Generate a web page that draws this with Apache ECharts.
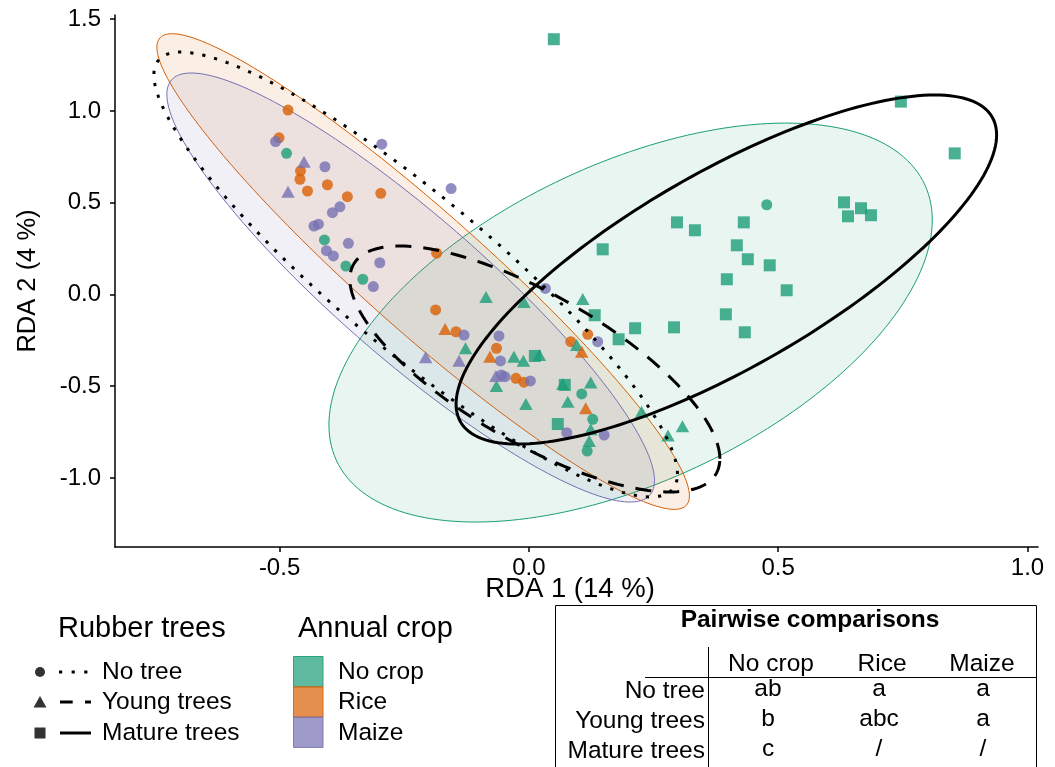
<!DOCTYPE html>
<html><head><meta charset="utf-8">
<script src="https://cdn.jsdelivr.net/npm/echarts@6/dist/echarts.min.js"></script>
<style>html,body{margin:0;padding:0;background:#fff}#c{width:1055px;height:767px}</style>
</head><body><div id="c"></div>
<script>
const FONT = '"Liberation Sans", Arial, Helvetica, sans-serif';

// ---- axes ----
const xTicks = [-0.5, 0.0, 0.5, 1.0];
const yTicks = [-1.0, -0.5, 0.0, 0.5, 1.0, 1.5];
const xTitle = 'RDA 1 (14 %)';
const yTitle = 'RDA 2 (4 %)';

// ---- groups ----
const cropNames = ['No crop', 'Rice', 'Maize'];
const cropColors = ['#1b9e77', '#d95f02', '#7570b3'];
const treeNames = ['No tree', 'Young trees', 'Mature trees'];
const treeSymbols = ['circle', 'triangle', 'rect'];

// ---- sample scores [RDA1, RDA2] ----
const noTreeNoCrop = [[-0.486,0.769],[-0.410,0.297],[-0.367,0.155],[-0.333,0.083],[0.477,0.489],[0.106,-0.542],[0.128,-0.680],[0.117,-0.853]];
const noTreeRice = [[-0.483,1.005],[-0.501,0.854],[-0.458,0.673],[-0.459,0.628],[-0.444,0.564],[-0.404,0.598],[-0.364,0.533],[-0.297,0.551],[-0.185,0.225],[-0.187,-0.084],[-0.146,-0.203],[-0.065,-0.293],[-0.026,-0.457],[-0.010,-0.478],[0.084,-0.257],[0.118,-0.217]];
const noTreeMaize = [[-0.508,0.833],[-0.409,0.696],[-0.295,0.819],[-0.156,0.577],[-0.379,0.478],[-0.394,0.446],[-0.422,0.383],[-0.431,0.373],[-0.362,0.279],[-0.406,0.239],[-0.392,0.210],[-0.299,0.173],[-0.312,0.043],[0.033,0.033],[-0.130,-0.221],[-0.060,-0.226],[-0.057,-0.362],[-0.055,-0.439],[-0.048,-0.448],[0.003,-0.471],[0.138,-0.257],[0.076,-0.753],[0.151,-0.766]];
const youngNoCrop = [[-0.086,-0.014],[-0.010,-0.041],[0.108,-0.025],[-0.127,-0.293],[-0.030,-0.339],[-0.011,-0.361],[0.021,-0.330],[-0.065,-0.499],[-0.006,-0.597],[0.068,-0.488],[0.096,-0.275],[0.124,-0.480],[0.078,-0.584],[0.124,-0.735],[0.121,-0.798],[0.226,-0.639],[0.308,-0.718],[0.279,-0.768]];
const youngRice = [[-0.168,-0.188],[-0.078,-0.339],[0.106,-0.312],[0.114,-0.620]];
const youngMaize = [[-0.451,0.724],[-0.483,0.560],[-0.207,-0.342],[-0.140,-0.361],[-0.066,-0.444]];
const matureNoCrop = [[0.050,1.391],[0.746,1.051],[0.854,0.769],[0.632,0.502],[0.666,0.470],[0.640,0.426],[0.686,0.432],[0.431,0.393],[0.297,0.393],[0.333,0.350],[0.148,0.246],[0.417,0.268],[0.439,0.192],[0.483,0.159],[0.397,0.083],[0.517,0.023],[0.395,-0.108],[0.433,-0.206],[0.132,-0.113],[0.213,-0.184],[0.291,-0.179],[0.180,-0.244],[0.012,-0.335],[0.072,-0.493],[0.058,-0.706]];

// ---- ellipses: centre, half-extent in x and y, correlation ----
const cropEllCx = [0.204, -0.212, -0.237];
const cropEllCy = [-0.153, 0.125, 0.038];
const cropEllRx = [0.605, 0.534, 0.489];
const cropEllRy = [1.087, 1.296, 1.169];
const cropEllR  = [0.514, -0.943, -0.900];

const treeEllCx = [-0.227, 0.012, 0.396];
const treeEllCy = [0.109, -0.406, 0.136];
const treeEllRx = [0.525, 0.371, 0.542];
const treeEllRy = [1.212, 0.670, 0.951];
const treeEllR  = [-0.897, -0.730, 0.771];

// ---- pairwise table ----
const tableCols = ['No crop', 'Rice', 'Maize'];
const tableRows = ['No tree', 'Young trees', 'Mature trees'];
const tableVals = [['ab','a','a'],['b','abc','a'],['c','/','/']];

function hexA(hex, a) {
  const n = parseInt(hex.slice(1), 16);
  return 'rgba(' + (n >> 16) + ',' + ((n >> 8) & 255) + ',' + (n & 255) + ',' + a + ')';
}

function ellipsePoints(api, cx, cy, rx, ry, r) {
  const pts = [];
  const s = Math.sqrt(1 - r * r);
  const N = 200;
  for (let k = 0; k <= N; k++) {
    const t = 2 * Math.PI * k / N;
    const x = cx + rx * Math.cos(t);
    const y = cy + ry * (r * Math.cos(t) + s * Math.sin(t));
    pts.push(api.coord([x, y]));
  }
  return pts;
}

const treeDash = [[3.2, 9], [16, 12], null];

const series = [];
series.push({
  type: 'custom', name: 'cropEllipses', z: 1, silent: true,
  data: cropEllCx.map((c, i) => [c, cropEllCy[i]]),
  renderItem: function (params, api) {
    const i = params.dataIndex;
    return {
      type: 'polygon',
      shape: { points: ellipsePoints(api, cropEllCx[i], cropEllCy[i], cropEllRx[i], cropEllRy[i], cropEllR[i]) },
      style: { fill: hexA(cropColors[i], 0.1), stroke: cropColors[i], lineWidth: 1 }
    };
  }
});

const groups = [
  [noTreeNoCrop, 0, 0], [noTreeRice, 0, 1], [noTreeMaize, 0, 2],
  [youngNoCrop, 1, 0], [youngRice, 1, 1], [youngMaize, 1, 2],
  [matureNoCrop, 2, 0]
];
const symSize = [11, [13.5, 12], 12];
groups.forEach(g => {
  series.push({
    type: 'scatter', z: 2, name: treeNames[g[1]] + ' / ' + cropNames[g[2]],
    symbol: treeSymbols[g[1]], symbolSize: symSize[g[1]],
    itemStyle: { color: cropColors[g[2]], opacity: 0.8 },
    data: g[0]
  });
});

series.push({
  type: 'custom', name: 'treeEllipses', z: 3, silent: true,
  data: treeEllCx.map((c, i) => [c, treeEllCy[i]]),
  renderItem: function (params, api) {
    const i = params.dataIndex;
    return {
      type: 'polyline',
      shape: { points: ellipsePoints(api, treeEllCx[i], treeEllCy[i], treeEllRx[i], treeEllRy[i], treeEllR[i]) },
      style: { fill: null, stroke: '#000', lineWidth: 3, lineDash: treeDash[i], lineCap: 'butt' }
    };
  }
});

// ---- legend + table as graphics ----
const graphics = [];
function txt(x, y, s, size, align, weight) {
  graphics.push({ type: 'text', x: x, y: y, silent: true,
    style: { text: s, font: (weight || 'normal') + ' ' + size + 'px ' + FONT, fill: '#000', align: align || 'left', verticalAlign: 'middle' } });
}
// x axis title
txt(570, 589, xTitle, 27.5, 'center');

txt(58, 629, 'Rubber trees', 29);
const legY = [672, 702, 733];
graphics.push({ type: 'circle', shape: { cx: 40, cy: legY[0], r: 5 }, style: { fill: '#333' } });
graphics.push({ type: 'polygon', shape: { points: [[40, legY[1] - 6], [33.5, legY[1] + 5.5], [46.5, legY[1] + 5.5]] }, style: { fill: '#333' } });
graphics.push({ type: 'rect', shape: { x: 34.5, y: legY[2] - 5.5, width: 11, height: 11 }, style: { fill: '#333' } });
graphics.push({ type: 'line', shape: { x1: 59, y1: legY[0], x2: 91, y2: legY[0] }, style: { stroke: '#000', lineWidth: 3, lineDash: [3.2, 9.4] } });
graphics.push({ type: 'line', shape: { x1: 60, y1: legY[1], x2: 91, y2: legY[1] }, style: { stroke: '#000', lineWidth: 3, lineDash: [12.7, 12.3] } });
graphics.push({ type: 'line', shape: { x1: 60, y1: legY[2], x2: 91, y2: legY[2] }, style: { stroke: '#000', lineWidth: 3 } });
treeNames.forEach((n, i) => txt(102, legY[i], n, 24.5));

txt(298, 629, 'Annual crop', 29);
cropNames.forEach((n, i) => {
  graphics.push({ type: 'rect', shape: { x: 293.5, y: 656.5 + i * 30.3, width: 29.5, height: 30.3 },
    style: { fill: hexA(cropColors[i], 0.7), stroke: hexA(cropColors[i], 0.9), lineWidth: 1 } });
  txt(338, legY[i], n, 24.5);
});

// table
graphics.push({ type: 'rect', shape: { x: 555.5, y: 605.5, width: 481, height: 220 }, style: { fill: 'none', stroke: '#000', lineWidth: 1 } });
txt(810, 620, 'Pairwise comparisons', 24.5, 'center', 'bold');
graphics.push({ type: 'line', shape: { x1: 645, y1: 677.5, x2: 1036, y2: 677.5 }, style: { stroke: '#000', lineWidth: 1 } });
graphics.push({ type: 'line', shape: { x1: 708.5, y1: 647, x2: 708.5, y2: 767 }, style: { stroke: '#000', lineWidth: 1 } });
const colX = [771, 882, 982];
const valX = [768, 879, 983];
tableCols.forEach((c, j) => txt(colX[j], 664, c, 24.5, 'center'));
const rowY = [691, 721, 751];
tableRows.forEach((r, i) => {
  txt(705, rowY[i], r, 24.5, 'right');
  tableVals[i].forEach((v, j) => txt(valX[j], rowY[i] - 2, v, 24.5, 'center'));
});

const chart = echarts.init(document.getElementById('c'), null, { renderer: 'canvas' });
chart.setOption({
  animation: false,
  backgroundColor: '#fff',
  grid: { left: 115, right: 17, top: 15, bottom: 220, containLabel: false },
  xAxis: {
    type: 'value', min: -0.83, max: 1.021,
    axisLine: { show: true, onZero: false, lineStyle: { color: '#000', width: 1.5 } },
    axisTick: { show: true, length: 5, lineStyle: { color: '#000', width: 1.5 }, customValues: xTicks },
    axisLabel: { fontFamily: FONT, fontSize: 24, color: '#000', margin: 9, customValues: xTicks, formatter: v => v.toFixed(1) },
    splitLine: { show: false }
  },
  yAxis: {
    type: 'value', min: -1.376, max: 1.523,
    name: yTitle, nameLocation: 'middle', nameGap: 74,
    nameTextStyle: { fontFamily: FONT, fontSize: 25.5, color: '#000' },
    axisLine: { show: true, onZero: false, lineStyle: { color: '#000', width: 1.5 } },
    axisTick: { show: true, length: 5, lineStyle: { color: '#000', width: 1.5 }, customValues: yTicks },
    axisLabel: { fontFamily: FONT, fontSize: 24, color: '#000', margin: 14, customValues: yTicks, formatter: v => v.toFixed(1) },
    splitLine: { show: false }
  },
  series: series,
  graphic: graphics
});
</script></body></html>
